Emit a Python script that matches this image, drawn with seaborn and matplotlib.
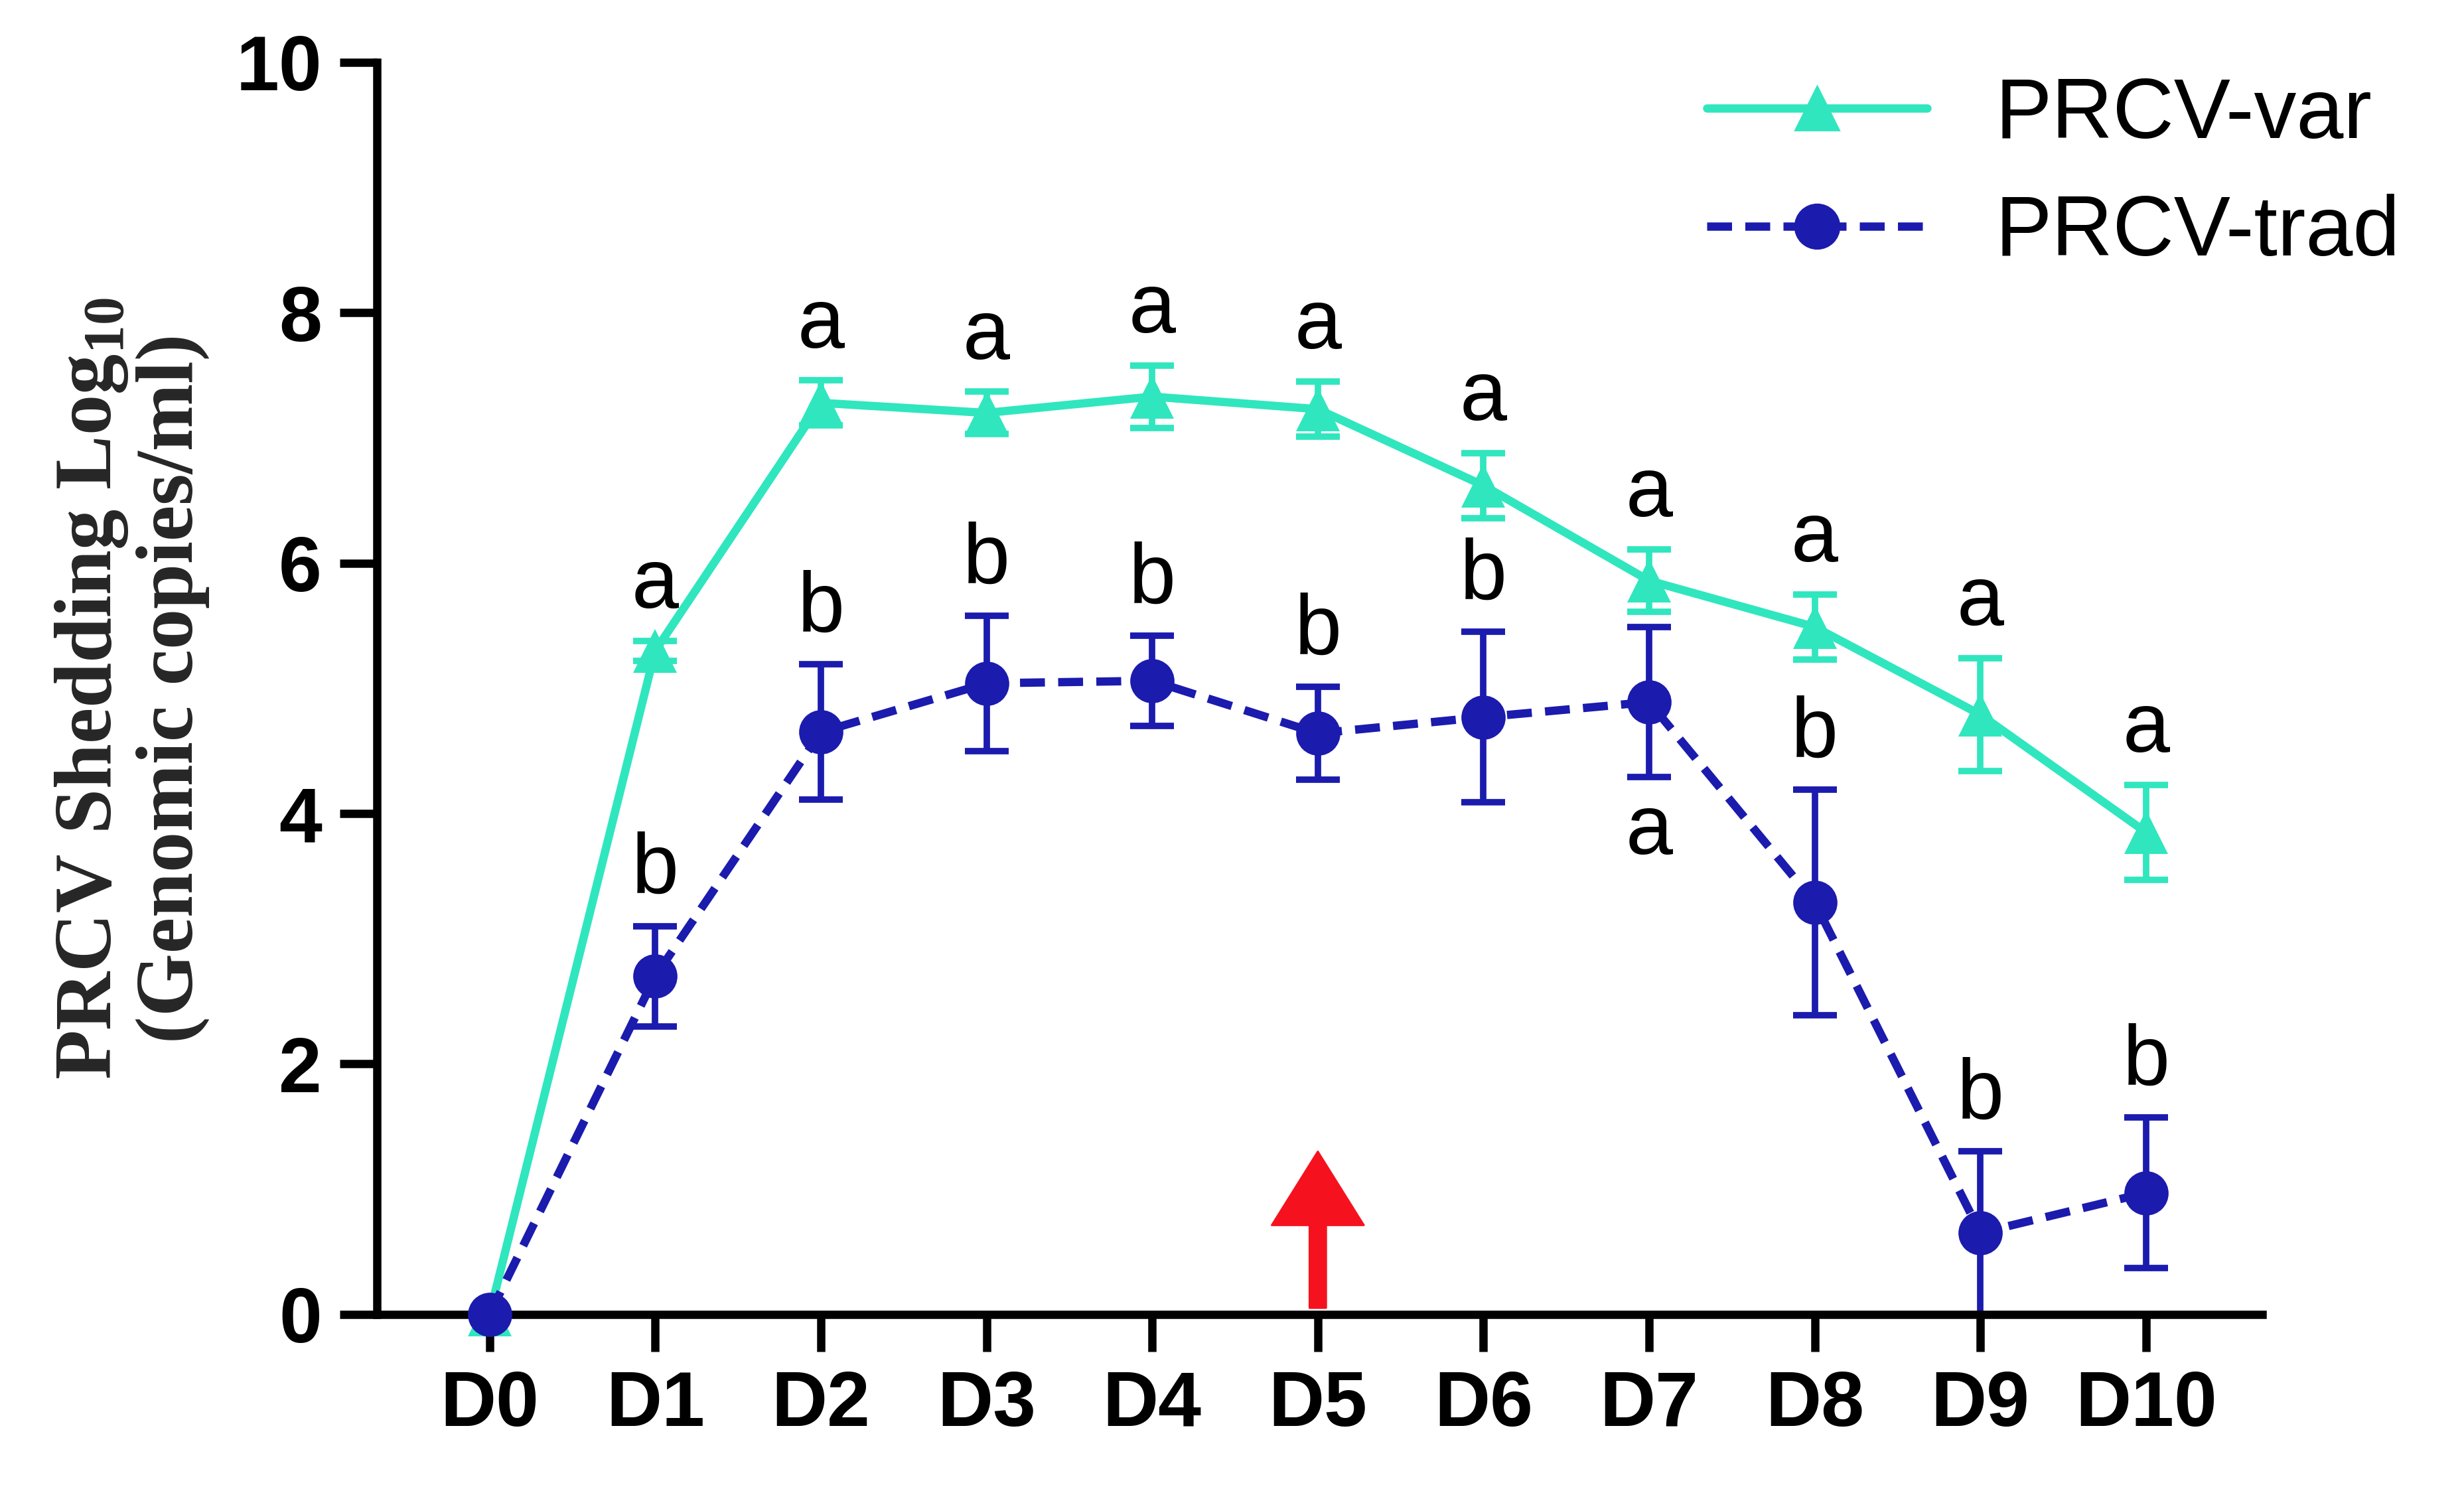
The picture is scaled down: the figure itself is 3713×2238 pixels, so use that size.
import matplotlib
matplotlib.use("Agg")
import matplotlib.pyplot as plt
import seaborn as sns
import pandas as pd
import numpy as np

days = ["D0","D1","D2","D3","D4","D5","D6","D7","D8","D9","D10"]
var_mean = [0, 5.3, 7.28, 7.2, 7.33, 7.23, 6.62, 5.86, 5.49, 4.79, 3.85]
var_err  = [0, 0.08, 0.18, 0.17, 0.25, 0.22, 0.26, 0.25, 0.26, 0.45, 0.38]
trad_mean = [0, 2.7, 4.65, 5.04, 5.06, 4.64, 4.77, 4.89, 3.29, 0.65, 0.97]
trad_err  = [0, 0.4, 0.54, 0.54, 0.36, 0.37, 0.68, 0.6, 0.9, 0.65, 0.6]
var_letters = ["", "a","a","a","a","a","a","a","a","a","a"]
trad_letters = ["", "b","b","b","b","b","b","","b","b","b"]

sns.set_style("ticks")
plt.rcParams['font.family'] = ['Liberation Sans', 'DejaVu Sans']
plt.rcParams['text.color'] = 'black'
plt.rcParams['xtick.color'] = 'black'
plt.rcParams['ytick.color'] = 'black'
plt.rcParams['axes.edgecolor'] = 'black'
VAR_C = "#30E6BE"
TRAD_C = "#1B1BAE"

fig = plt.figure(figsize=(18.565, 11.19), dpi=200)
ax = fig.add_axes([0.153, 0.115, 0.765, 0.843])
x = np.arange(len(days))
df = pd.DataFrame({"x": np.concatenate([x, x]),
                   "y": var_mean + trad_mean,
                   "g": ["PRCV-var"]*len(x) + ["PRCV-trad"]*len(x)})

ax.errorbar(x, var_mean, yerr=var_err, fmt="none", ecolor=VAR_C, elinewidth=3.5, capsize=12, capthick=3.5, clip_on=False, zorder=2)
ax.errorbar(x, trad_mean, yerr=trad_err, fmt="none", ecolor=TRAD_C, elinewidth=3.5, capsize=12, capthick=3.5, clip_on=False, zorder=2)
sns.lineplot(data=df, x="x", y="y", hue="g", style="g",
             palette={"PRCV-var": VAR_C, "PRCV-trad": TRAD_C},
             markers={"PRCV-var": "^", "PRCV-trad": "o"},
             dashes={"PRCV-var": "", "PRCV-trad": (3, 1.6)},
             markersize=24, markeredgewidth=0, linewidth=4.5, ax=ax, legend=False, zorder=3)
for l in ax.lines:
    l.set_clip_on(False)

FS = 46
for i in x:
    if var_letters[i]:
        ax.text(i, var_mean[i] + var_err[i] + 0.12, var_letters[i], ha="center", va="bottom", fontsize=FS)
    if trad_letters[i]:
        ax.text(i, trad_mean[i] + trad_err[i] + 0.12, trad_letters[i], ha="center", va="bottom", fontsize=FS)
ax.text(7, trad_mean[7] - trad_err[7] - 0.12, "a", ha="center", va="top", fontsize=FS)

ax.annotate("", xy=(5, 1.3), xytext=(5, 0.05),
            arrowprops=dict(facecolor="#F5121E", edgecolor="#F5121E", width=9, headwidth=50, headlength=40))

ax.set_xlim(-0.68, 10.7)
ax.set_ylim(0, 10)
ax.set_yticks([0, 2, 4, 6, 8, 10])
ax.set_xticks(x)
ax.set_xticklabels(days)
for s in ["top", "right"]:
    ax.spines[s].set_visible(False)
for s in ["left", "bottom"]:
    ax.spines[s].set_linewidth(4.5)
ax.tick_params(axis="both", which="major", width=4.5, length=20, labelsize=42, pad=10)
for t in ax.get_xticklabels() + ax.get_yticklabels():
    t.set_fontweight("bold")
ax.set_xlabel("")
ax.set_ylabel("PRCV Shedding Log$_{\\mathregular{10}}$\n(Genomic copies/ml)",
              fontsize=44, fontweight="bold", family="Liberation Serif", labelpad=14, linespacing=1.1)

from matplotlib.lines import Line2D
h = [Line2D([], [], color=VAR_C, marker="^", markersize=24, lw=4.5),
     Line2D([], [], color=TRAD_C, marker="o", markersize=24, lw=4.5, ls=(0, (3, 1.6)))]
fig.legend(h, ["PRCV-var", "PRCV-trad"], loc="upper right", bbox_to_anchor=(1.005, 1.0),
           frameon=False, fontsize=46, handlelength=2.6, labelspacing=0.45, handletextpad=0.8)

fig.savefig("out.png", dpi=200)
